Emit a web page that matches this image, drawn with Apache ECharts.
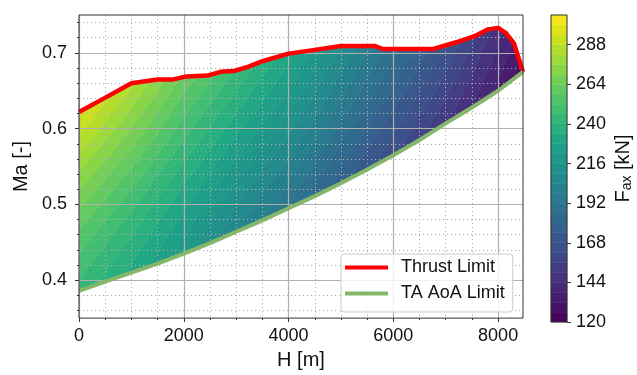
<!DOCTYPE html>
<html>
<head>
<meta charset="utf-8">
<script src="https://cdn.jsdelivr.net/npm/echarts@6.0.0/dist/echarts.min.js"></script>
<style>
  html, body { margin: 0; padding: 0; background: #ffffff; }
  #chart { width: 637px; height: 375px; }
</style>
</head>
<body>
<div id="chart"></div>
<script>
// ---------------- data ----------------
// Field grid: F_ax [kN] at (H, Ma) nodes, rows = MA_GRID, columns = H_GRID
const H_GRID = [0, 1000, 2000, 3000, 4000, 5000, 6000, 7000, 8000, 8500];
const MA_GRID = [0.36, 0.40, 0.44, 0.48, 0.52, 0.56, 0.60, 0.64, 0.68, 0.72, 0.76];
const F_GRID = [
  [240, 225, 208, 188, 170, 150, 131, 112,  92,  81],
  [246, 231, 214, 194, 176, 156, 137, 118,  98,  87],
  [253, 237, 220, 200, 182, 162, 143, 124, 104,  93],
  [261, 244, 226, 207, 189, 168, 149, 130, 110,  99],
  [270, 252, 233, 214, 196, 175, 155, 136, 116, 105],
  [280, 261, 241, 222, 204, 182, 162, 142, 122, 111],
  [290, 270, 249, 230, 212, 190, 169, 149, 129, 118],
  [300, 279, 257, 238, 220, 198, 177, 156, 135, 124],
  [310, 288, 265, 246, 227, 205, 184, 163, 140, 129],
  [320, 297, 273, 254, 234, 212, 191, 170, 145, 134],
  [330, 306, 281, 262, 241, 219, 198, 177, 150, 139]
];

// Thrust limit (upper boundary)
const THRUST_H  = [0, 400, 1000, 1500, 1800, 2050, 2450, 2700, 2950, 3200, 3500, 4000, 4500, 5000, 5650, 5800, 6750, 7200, 7550, 7800, 8000, 8150, 8300, 8475];
const THRUST_MA = [0.622, 0.637, 0.660, 0.665, 0.665, 0.669, 0.670, 0.675, 0.676, 0.681, 0.689, 0.699, 0.704, 0.709, 0.709, 0.705, 0.705, 0.714, 0.722, 0.731, 0.733, 0.726, 0.713, 0.675];

// TA AoA limit (lower boundary)
const AOA_H  = [0, 500, 1000, 1500, 2000, 2500, 3000, 3500, 4000, 4500, 5000, 5500, 6000, 6500, 7000, 7500, 8000, 8475];
const AOA_MA = [0.386, 0.398, 0.410, 0.422, 0.435, 0.449, 0.464, 0.479, 0.495, 0.511, 0.528, 0.546, 0.565, 0.585, 0.607, 0.628, 0.650, 0.675];

// Ticks
const X_TICKS = [0, 2000, 4000, 6000, 8000];
const X_MINOR = [500, 1000, 1500, 2500, 3000, 3500, 4500, 5000, 5500, 6500, 7000, 7500];
const Y_TICKS = [0.4, 0.5, 0.6, 0.7];
const Y_MINOR = [0.36, 0.38, 0.42, 0.44, 0.46, 0.48, 0.52, 0.54, 0.56, 0.58, 0.62, 0.64, 0.66, 0.68, 0.72, 0.74];
const CB_TICKS = [120, 144, 168, 192, 216, 240, 264, 288];

// Contour levels
const LEVEL_MIN = 120, LEVEL_MAX = 306, LEVEL_STEP = 6;

const SERIES_NAMES = ['Thrust Limit', 'TA AoA Limit'];

// ---------------- contour band construction ----------------
const VIRIDIS = ['#440154', '#471063', '#482475', '#463480', '#414487', '#3b528b', '#355f8d',
  '#2f6c8e', '#2a788e', '#25848e', '#21918c', '#1e9c89', '#22a884', '#2fb47c', '#44bf70',
  '#5ec962', '#7ad151', '#9bd93c', '#bddf26', '#dfe318', '#fde725'];

function clipPoly(poly, level, keepAbove) {
  const out = [];
  const n = poly.length;
  for (let i = 0; i < n; i++) {
    const a = poly[i], b = poly[(i + 1) % n];
    const ina = keepAbove ? a[2] >= level : a[2] <= level;
    const inb = keepAbove ? b[2] >= level : b[2] <= level;
    if (ina) out.push(a);
    if (ina !== inb) {
      const t = (level - a[2]) / (b[2] - a[2]);
      out.push([a[0] + t * (b[0] - a[0]), a[1] + t * (b[1] - a[1]), level]);
    }
  }
  return out;
}

const FIELD_POLYS = [];
const FIELD_DATA = [];
(function buildBands() {
  let fmin = Infinity, fmax = -Infinity;
  F_GRID.forEach(r => r.forEach(v => { fmin = Math.min(fmin, v); fmax = Math.max(fmax, v); }));
  const lo0 = LEVEL_MIN + LEVEL_STEP * Math.floor((fmin - LEVEL_MIN) / LEVEL_STEP);
  const levels = [];
  for (let l = lo0; l <= fmax + LEVEL_STEP; l += LEVEL_STEP) levels.push(l);
  for (let j = 0; j < MA_GRID.length - 1; j++) {
    for (let i = 0; i < H_GRID.length - 1; i++) {
      const p00 = [H_GRID[i], MA_GRID[j], F_GRID[j][i]];
      const p10 = [H_GRID[i + 1], MA_GRID[j], F_GRID[j][i + 1]];
      const p01 = [H_GRID[i], MA_GRID[j + 1], F_GRID[j + 1][i]];
      const p11 = [H_GRID[i + 1], MA_GRID[j + 1], F_GRID[j + 1][i + 1]];
      const tris = [[p00, p10, p11], [p00, p11, p01]];
      tris.forEach(tri => {
        for (let k = 0; k < levels.length - 1; k++) {
          const lo = levels[k], hi = levels[k + 1];
          let poly = clipPoly(tri, lo, true);
          if (poly.length < 3) continue;
          poly = clipPoly(poly, hi, false);
          if (poly.length < 3) continue;
          const mid = Math.min(Math.max((lo + hi) / 2, LEVEL_MIN + LEVEL_STEP / 2), LEVEL_MAX - LEVEL_STEP / 2);
          FIELD_DATA.push([mid, FIELD_POLYS.length]);
          FIELD_POLYS.push(poly);
        }
      });
    }
  }
})();

const CB_DATA = [];
for (let l = LEVEL_MIN; l < LEVEL_MAX; l += LEVEL_STEP) CB_DATA.push([l + LEVEL_STEP / 2, l, l + LEVEL_STEP]);

const thrustData = THRUST_H.map((h, i) => [h, THRUST_MA[i]]);
const aoaData = AOA_H.map((h, i) => [h, AOA_MA[i]]);

// ---------------- chart ----------------
const FONT = 'Liberation Sans';
const TXT = '#111111';
const SPINE = '#333333';
const GRIDC = '#b0b0b0';

const chart = echarts.init(document.getElementById('chart'), null, { renderer: 'canvas' });

const option = {
  animation: false,
  backgroundColor: '#ffffff',
  textStyle: { fontFamily: FONT },
  grid: [
    { left: 79, top: 15, width: 444, height: 307, show: true, backgroundColor: 'transparent',
      borderColor: SPINE, borderWidth: 1, z: 10 },
    { left: 551, top: 15, width: 16, height: 307, show: true, backgroundColor: 'transparent',
      borderColor: SPINE, borderWidth: 1, z: 10 }
  ],
  xAxis: [
    { type: 'value', gridIndex: 0, min: 0, max: 8475, position: 'bottom', z: 3,
      name: 'H [m]', nameLocation: 'middle', nameGap: 21,
      nameTextStyle: { fontSize: 20, color: TXT, fontFamily: FONT },
      axisLine: { show: false, onZero: false },
      axisTick: { show: true, customValues: X_TICKS, length: 4, inside: false, lineStyle: { color: SPINE, width: 1 } },
      axisLabel: { show: true, customValues: X_TICKS, margin: 9, fontSize: 18, color: TXT, fontFamily: FONT,
        formatter: v => String(Math.round(v)) },
      splitLine: { show: true, lineStyle: { color: GRIDC, width: 1.2, type: 'solid' } }
    },
    { type: 'value', gridIndex: 0, min: 0, max: 8475, position: 'bottom', z: 3,
      axisLine: { show: false, onZero: false },
      axisTick: { show: true, customValues: X_MINOR, length: 2, inside: false, lineStyle: { color: SPINE, width: 1 } },
      axisLabel: { show: false },
      splitLine: { show: true, lineStyle: { color: GRIDC, width: 1, type: [1.2, 2.8] } }
    },
    { type: 'value', gridIndex: 1, min: 0, max: 1, show: false }
  ],
  yAxis: [
    { type: 'value', gridIndex: 0, min: 0.35, max: 0.75, position: 'left', z: 3,
      name: 'Ma [-]', nameLocation: 'middle', nameGap: 44, nameRotate: 90,
      nameTextStyle: { fontSize: 20, color: TXT, fontFamily: FONT },
      axisLine: { show: false, onZero: false },
      axisTick: { show: true, customValues: Y_TICKS, length: 4, inside: false, lineStyle: { color: SPINE, width: 1 } },
      axisLabel: { show: true, customValues: Y_TICKS, margin: 12, fontSize: 18, color: TXT, fontFamily: FONT,
        formatter: v => v.toFixed(1) },
      splitLine: { show: true, lineStyle: { color: GRIDC, width: 1.2, type: 'solid' } }
    },
    { type: 'value', gridIndex: 0, min: 0.35, max: 0.75, position: 'left', z: 3,
      axisLine: { show: false, onZero: false },
      axisTick: { show: true, customValues: Y_MINOR, length: 2, inside: false, lineStyle: { color: SPINE, width: 1 } },
      axisLabel: { show: false },
      splitLine: { show: true, lineStyle: { color: GRIDC, width: 1, type: [1.2, 2.8] } }
    },
    { type: 'value', gridIndex: 1, min: LEVEL_MIN, max: LEVEL_MAX, position: 'right', z: 3,
      name: 'F{sub|ax} [kN]', nameLocation: 'middle', nameGap: 45, nameRotate: 90,
      nameTextStyle: { fontSize: 20, color: TXT, fontFamily: FONT, lineHeight: 22,
        rich: { sub: { fontSize: 14, color: TXT, fontFamily: FONT, verticalAlign: 'bottom', lineHeight: 14, padding: [8, 0, 0, 0] } } },
      axisLine: { show: false, onZero: false },
      axisTick: { show: true, customValues: CB_TICKS, length: 4, inside: false, lineStyle: { color: SPINE, width: 1 } },
      axisLabel: { show: true, customValues: CB_TICKS, margin: 9, fontSize: 18, color: TXT, fontFamily: FONT,
        formatter: v => String(Math.round(v)) },
      splitLine: { show: false }
    }
  ],
  visualMap: {
    type: 'continuous', show: false, min: LEVEL_MIN, max: LEVEL_MAX, dimension: 0,
    seriesIndex: [0, 5], inRange: { color: VIRIDIS }
  },
  legend: {
    orient: 'vertical', left: 341, top: 254, z: 20,
    data: SERIES_NAMES, icon: 'rect', itemWidth: 43, itemHeight: 4, itemGap: 7,
    textStyle: { fontSize: 18, color: TXT, fontFamily: FONT, lineHeight: 19, padding: [0, 0, 0, 8] },
    backgroundColor: 'rgba(255,255,255,0.8)', borderColor: '#cccccc', borderWidth: 1, borderRadius: 3,
    padding: [4, 8, 9, 4]
  },
  series: [
    { type: 'custom', name: 'field', xAxisIndex: 0, yAxisIndex: 0, z: 1, clip: true, silent: true,
      data: FIELD_DATA,
      renderItem: function (params, api) {
        const poly = FIELD_POLYS[api.value(1)];
        const pts = poly.map(p => api.coord([p[0], p[1]]));
        const c = api.visual('color');
        return { type: 'polygon', shape: { points: pts }, style: { fill: c, stroke: c, lineWidth: 0.7 } };
      }
    },
    { type: 'line', name: 'maskTop', xAxisIndex: 0, yAxisIndex: 0, z: 2, silent: true,
      data: thrustData, symbol: 'none', showSymbol: false,
      lineStyle: { width: 0, color: '#ffffff' },
      areaStyle: { origin: 'end', color: '#ffffff', opacity: 1 }
    },
    { type: 'line', name: 'maskBottom', xAxisIndex: 0, yAxisIndex: 0, z: 2, silent: true,
      data: aoaData, symbol: 'none', showSymbol: false,
      lineStyle: { width: 0, color: '#ffffff' },
      areaStyle: { origin: 'start', color: '#ffffff', opacity: 1 }
    },
    { type: 'line', name: SERIES_NAMES[0], xAxisIndex: 0, yAxisIndex: 0, z: 5,
      data: thrustData, symbol: 'none', showSymbol: false, color: '#ff0000',
      lineStyle: { width: 4.5, color: '#ff0000', join: 'round', cap: 'butt' }
    },
    { type: 'line', name: SERIES_NAMES[1], xAxisIndex: 0, yAxisIndex: 0, z: 5,
      data: aoaData, symbol: 'none', showSymbol: false, color: '#84b76a',
      lineStyle: { width: 4, color: '#84b76a', join: 'round', cap: 'butt' }
    },
    { type: 'custom', name: 'colorbar', xAxisIndex: 2, yAxisIndex: 2, z: 1, silent: true,
      data: CB_DATA,
      renderItem: function (params, api) {
        const a = api.coord([0, api.value(1)]);
        const b = api.coord([1, api.value(2)]);
        const c = api.visual('color');
        return { type: 'rect', shape: { x: a[0], y: b[1], width: b[0] - a[0], height: a[1] - b[1] },
          style: { fill: c, stroke: c, lineWidth: 0.5 } };
      }
    }
  ]
};
chart.setOption(option);
</script>
</body>
</html>
